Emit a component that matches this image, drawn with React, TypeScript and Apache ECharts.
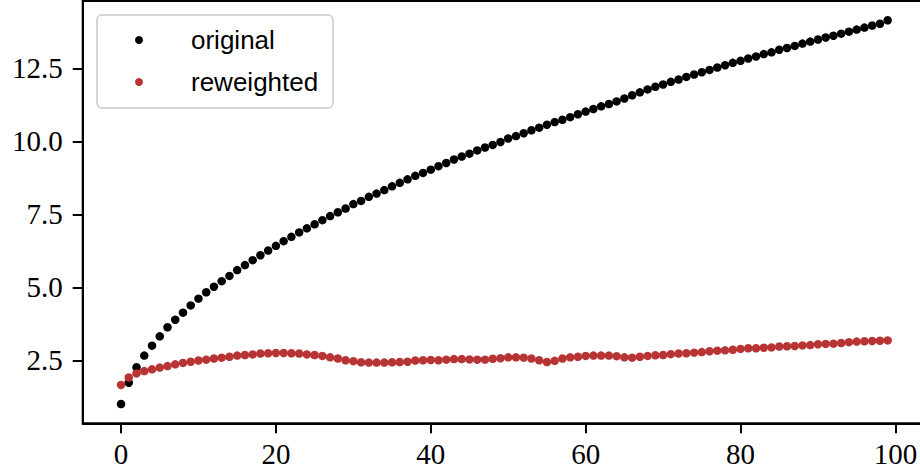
import React, { useEffect, useRef } from "react";
import * as echarts from "echarts";

const seriesNames = ["original", "reweighted"];
const xTickValues = [0, 20, 40, 60, 80, 100];
const yTickValues = [2.5, 5.0, 7.5, 10.0, 12.5];

const original = [
  1.0, 1.73, 2.26, 2.66, 3.0, 3.32, 3.63, 3.89, 4.13, 4.38,
  4.61, 4.83, 5.02, 5.21, 5.39, 5.59, 5.76, 5.93, 6.1, 6.26,
  6.42, 6.58, 6.73, 6.88, 7.02, 7.16, 7.3, 7.44, 7.57, 7.7,
  7.85, 7.96, 8.1, 8.21, 8.33, 8.46, 8.58, 8.7, 8.82, 8.92,
  9.03, 9.15, 9.26, 9.38, 9.48, 9.58, 9.69, 9.79, 9.88, 9.98,
  10.1, 10.18, 10.28, 10.38, 10.47, 10.57, 10.66, 10.74, 10.83, 10.93,
  11.02, 11.11, 11.2, 11.28, 11.37, 11.47, 11.58, 11.68, 11.78, 11.87,
  11.95, 12.04, 12.12, 12.21, 12.29, 12.37, 12.45, 12.53, 12.61, 12.69,
  12.76, 12.84, 12.91, 12.99, 13.05, 13.14, 13.2, 13.27, 13.35, 13.42,
  13.49, 13.56, 13.62, 13.69, 13.76, 13.83, 13.9, 13.97, 14.03, 14.15,
];

const reweighted = [
  1.655, 1.91, 2.05, 2.13, 2.19, 2.25, 2.3, 2.36, 2.41, 2.45,
  2.49, 2.52, 2.56, 2.59, 2.62, 2.66, 2.68, 2.7, 2.73, 2.74,
  2.75, 2.75, 2.74, 2.73, 2.7, 2.68, 2.65, 2.6, 2.56, 2.5,
  2.47, 2.43, 2.42, 2.42, 2.42, 2.43, 2.44, 2.45, 2.49, 2.5,
  2.51, 2.5, 2.52, 2.54, 2.54, 2.53, 2.52, 2.52, 2.55, 2.57,
  2.6, 2.6, 2.59, 2.56, 2.5, 2.44, 2.48, 2.56, 2.6, 2.62,
  2.65, 2.66, 2.66, 2.66, 2.64, 2.6, 2.59, 2.62, 2.65, 2.67,
  2.68, 2.71, 2.73, 2.74, 2.76, 2.78, 2.81, 2.83, 2.84, 2.86,
  2.89, 2.91, 2.91, 2.93, 2.94, 2.97, 2.98, 2.99, 3.01, 3.02,
  3.05, 3.06, 3.07, 3.09, 3.12, 3.14, 3.15, 3.16, 3.17, 3.18,
];

const colors = ["#000000", "#b83434"];

export default function App() {
  const ref = useRef<HTMLDivElement>(null);
  useEffect(() => {
    if (!ref.current) return;
    const chart = echarts.init(ref.current, undefined, { renderer: "svg" });
    const serif = "'Liberation Serif', 'DejaVu Serif', serif";
    const sans = "'Liberation Sans', 'DejaVu Sans', sans-serif";
    const axisLine = { show: true, onZero: false, lineStyle: { color: "#000", width: 2 } };
    const axisTick = { show: true, inside: false, length: 10, lineStyle: { color: "#000", width: 2 } };
    chart.setOption({
      animation: false,
      backgroundColor: "#ffffff",
      grid: {
        left: 82.7,
        width: 843.3,
        top: 1,
        height: 422.3,
        outerBoundsMode: "none",
        containLabel: false,
        show: true,
        borderColor: "#000",
        borderWidth: 2,
        backgroundColor: "transparent",
      },
      xAxis: {
        type: "value",
        min: -4.95,
        max: 103.95,
        axisLine,
        axisTick: { ...axisTick, customValues: xTickValues },
        splitLine: { show: false },
        axisLabel: {
          customValues: xTickValues,
          fontFamily: serif,
          fontSize: 29,
          color: "#000",
          margin: 16,
          formatter: (v: number) => String(Math.round(v)),
        },
      },
      yAxis: {
        type: "value",
        min: 0.34,
        max: 14.81,
        axisLine,
        axisTick: { ...axisTick, customValues: yTickValues },
        splitLine: { show: false },
        axisLabel: {
          customValues: yTickValues,
          fontFamily: serif,
          fontSize: 29,
          color: "#000",
          margin: 20,
          formatter: (v: number) => v.toFixed(1),
        },
      },
      legend: {
        show: true,
        orient: "vertical",
        left: 135,
        top: 25,
        padding: 0,
        itemGap: 12,
        itemWidth: 8,
        itemHeight: 8,
        icon: "circle",
        z: 5,
        data: seriesNames,
        textStyle: {
          fontFamily: sans,
          fontSize: 26,
          color: "#000",
          lineHeight: 30,
          padding: [0, 0, 0, 43],
        },
      },
      graphic: [
        {
          type: "rect",
          z: 3,
          shape: { x: 97, y: 15, width: 236, height: 93, r: 5 },
          style: { fill: "rgba(255,255,255,0.85)", stroke: "#d6d6d6", lineWidth: 2 },
        },
      ],
      series: [
        {
          name: seriesNames[0],
          type: "scatter",
          symbol: "circle",
          symbolSize: 8.5,
          itemStyle: { color: colors[0], opacity: 1 },
          data: original.map((v, i) => [i, v]),
        },
        {
          name: seriesNames[1],
          type: "scatter",
          symbol: "circle",
          symbolSize: 8.5,
          itemStyle: { color: colors[1], opacity: 1 },
          data: reweighted.map((v, i) => [i, v]),
        },
      ],
    });
    return () => chart.dispose();
  }, []);
  return (
    <div
      ref={ref}
      style={{ position: "absolute", left: 0, top: 0, width: 920, height: 472 }}
    />
  );
}
